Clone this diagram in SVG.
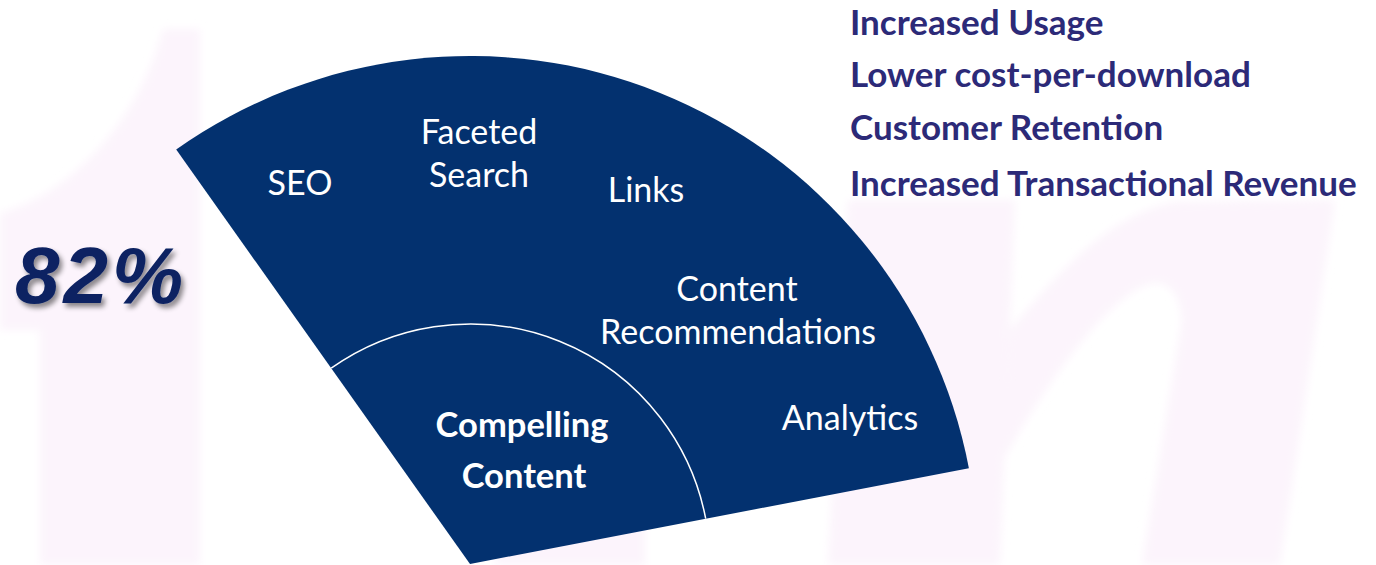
<svg xmlns="http://www.w3.org/2000/svg" width="1376" height="565" viewBox="0 0 1376 565">
<style>
.bg{fill:#FCF4FC}
.fan{fill:#03316F}
.lbl{font-family:Lato,"Open Sans","Liberation Sans",sans-serif;font-size:34px;fill:#FFFFFF;text-anchor:middle}
.lblb{font-family:Lato,"Open Sans","Liberation Sans",sans-serif;font-size:34.5px;font-weight:bold;fill:#FFFFFF;text-anchor:middle}
.ben{font-family:Lato,"Open Sans","Liberation Sans",sans-serif;font-size:35px;font-weight:bold;fill:#2C2A78}
.big{font-family:"Liberation Sans",Arial,sans-serif;font-size:80px;font-weight:bold;font-style:italic;fill:#0C2462;letter-spacing:4px}
</style>
<defs>
<filter id="sh" x="-20%" y="-20%" width="150%" height="160%">
<feDropShadow dx="3" dy="4" stdDeviation="2.5" flood-color="#000000" flood-opacity="0.45"/>
</filter>
<filter id="soft" x="-5%" y="-5%" width="110%" height="110%">
<feGaussianBlur stdDeviation="4"/>
</filter>
</defs>
<rect width="1376" height="565" fill="#FFFFFF"/>
<g id="background" filter="url(#soft)">
<path class="bg" d="M163,29 L200,29 L200,565 L40,565 L40,330 L0,330 L0,213 C70,195 140,120 163,29 Z"/>
<rect class="bg" x="495" y="400" width="150" height="165"/>
<path class="bg" d="M848,200 L1015,200 L1000,565 L828,565 Z"/>
<path class="bg" d="M1010,330 C1060,270 1110,215 1175,202 L1335,200 L1280,565 L1142,565 L1182,320 C1180,292 1168,283 1155,283 C1120,286 1060,360 1003,460 Z"/>
</g>
<g id="fan">
<path class="fan" d="M176.2,149.6 A508,508 0 0 1 968.9,468.2 L470,564 Z"/>
</g>
<g id="connectors">
<path d="M331.2,368.2 A240,240 0 0 1 705.7,518.7" fill="none" stroke="#FFFFFF" stroke-width="1.5"/>
</g>
<g id="node-seo"><text class="lbl" x="300" y="195">SEO</text></g>
<g id="node-faceted"><text class="lbl" x="479" y="144">Faceted</text><text class="lbl" x="479" y="187">Search</text></g>
<g id="node-links"><text class="lbl" x="646" y="202">Links</text></g>
<g id="node-recs"><text class="lbl" x="737" y="301">Content</text><text class="lbl" x="738" y="344">Recommendations</text></g>
<g id="node-analytics"><text class="lbl" x="850" y="430">Analytics</text></g>
<g id="node-compelling"><text class="lblb" x="522" y="437">Compelling</text><text class="lblb" x="524" y="488">Content</text></g>
<g id="node-82"><text class="big" x="15" y="303" filter="url(#sh)">82%</text></g>
<g id="node-benefits">
<text class="ben" x="850" y="35">Increased Usage</text>
<text class="ben" x="850" y="87">Lower cost-per-download</text>
<text class="ben" x="850" y="140">Customer Retention</text>
<text class="ben" x="850" y="196">Increased Transactional Revenue</text>
</g>
</svg>
